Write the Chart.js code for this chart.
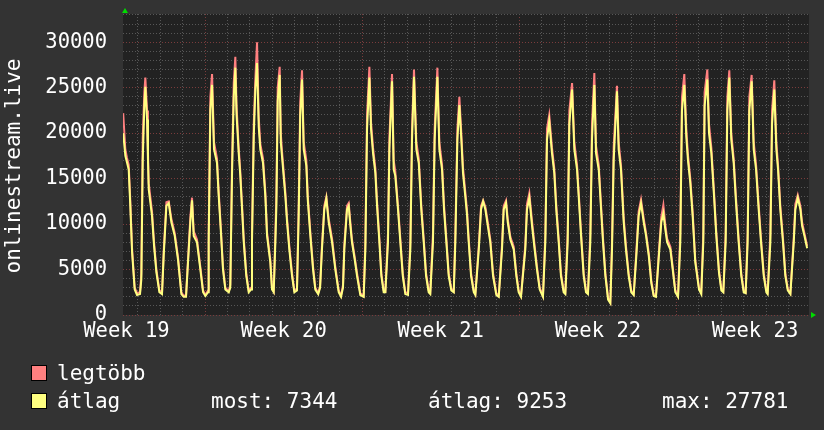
<!DOCTYPE html>
<html>
<head>
<meta charset="utf-8">
<script src="https://cdn.jsdelivr.net/npm/chart.js@4.4.0/dist/chart.umd.min.js"></script>
<style>
    html, body { margin: 0; padding: 0; background: #333333; }
    #wrap { position: relative; width: 824px; height: 430px; font-family: 'DejaVu Sans Mono', monospace; color: #fff; }
    #box { position: absolute; left: 0; top: 0; width: 824px; height: 430px; }
    .ytitle { position: absolute; left: 13px; top: 166px; transform: translate(-50%, -50%) rotate(-90deg); font-size: 21px; white-space: nowrap; }
    .leg { position: absolute; font-size: 21px; line-height: 21px; white-space: pre; }
    .sw { position: absolute; width: 14px; height: 14px; border: 1px solid #000; }
</style>
</head>
<body>
<div id="wrap">
    <div id="box"><canvas id="rrdChart"></canvas></div>
    <div class="ytitle">onlinestream.live</div>
    <div class="sw" style="left:31px;top:365px;background:#ff8080"></div>
    <div class="leg" style="left:57px;top:363px">legtöbb</div>
    <div class="sw" style="left:31px;top:393px;background:#ffff80"></div>
    <div class="leg" style="left:57px;top:391px">átlag</div>
    <div class="leg" id="lastTxt" style="left:211px;top:391px"></div>
    <div class="leg" id="avgTxt" style="left:428px;top:391px"></div>
    <div class="leg" id="maxTxt" style="left:662px;top:391px"></div>
</div>
<script>
// hours relative to Monday 00:00 of week 20 (the first red grid line)
const hours = [
    -87.5, -85.2, -83.5, -81.6, -79.9, -78.0, -75.2, -72.7, -69.5,
    -68.1, -66.6, -64.9, -63.8, -62.0, -61.0, -60.2, -56.7, -54.5, -52.0, -48.8,
    -46.0, -44.2, -41.3, -38.8, -36.0, -32.4, -28.9, -25.3, -22.8,
    -20.3, -17.4, -15.7, -13.9, -12.1, -8.6, -5.0, -2.1, 0.4,
    3.2, 3.9, 5.7, 7.5, 9.6, 12.8, 14.6, 16.8, 19.2, 21.7, 25.3,
    27.0, 28.9, 30.7, 32.4, 33.7, 36.0, 37.7, 39.6, 41.4, 44.1, 46.7,
    49.2, 50.2, 52.1, 53.8, 55.6, 57.4, 59.1, 62.0, 64.5, 66.3, 69.8, 71.6, 73.4,
    75.2, 76.3, 77.7, 79.8, 81.0, 82.3, 85.9, 87.7, 90.1, 93.0, 95.5,
    98.3, 100.1, 101.8, 103.7, 105.5, 108.3, 109.8, 112.6, 115.5, 117.9, 121.0,
    123.0, 125.0, 127.5, 129.7, 132.2, 135.8, 139.3, 142.9, 145.4,
    147.5, 148.9, 151.8, 153.6, 155.2, 157.1, 160.0, 162.5, 166.0, 169.6,
    171.4, 173.2, 175.7, 177.5, 179.6, 182.1, 183.9, 186.4, 188.5, 191.0,
    192.8, 195.6, 197.1, 199.9, 201.7, 203.4, 206.3, 208.8, 211.4, 214.1,
    217.0, 219.5, 221.3, 223.4, 225.9, 228.5, 231.2, 233.8, 236.3, 239.1,
    240.8, 243.7, 245.5, 248.4, 250.5, 253.4, 255.5, 258.0, 260.5, 263.3,
    265.9, 267.6, 269.8, 271.9, 274.0, 275.8, 278.3, 280.1, 281.9, 284.4, 287.3,
    289.0, 292.7, 295.1, 297.3, 299.7, 302.3, 305.0, 307.9, 311.4,
    314.0, 317.5, 319.3, 321.8, 323.6, 326.4, 330.0, 332.8, 335.3, 337.8,
    342.4, 344.2, 346.7, 349.6, 352.4, 354.9, 357.8, 361.3,
    363.8, 365.6, 368.0, 370.9, 373.4, 375.5, 378.1, 380.5, 383.4,
    385.2, 387.7, 389.5, 392.4, 394.8, 397.7, 399.5, 402.0, 404.8, 407.3,
    409.4, 411.9, 413.7, 416.2, 418.0, 420.9, 423.4, 425.5, 428.0, 430.9, 433.3,
    435.1, 436.9, 440.4, 442.2, 444.7, 447.6, 450.0, 452.9, 455.7,
    458.3, 461.1, 463.6, 466.1, 469.0, 471.5, 474.4, 477.1, 479.7,
    482.1, 485.7, 487.8, 490.0, 492.1, 494.0, 497.5, 500.0, 502.8, 505.7,
    508.1, 509.9, 512.4, 514.5, 516.3, 518.8, 521.3, 524.1, 528.1, 530.5,
    532.7, 534.1, 537.0, 538.8, 541.3, 544.2, 546.6, 549.5, 552.0, 554.1,
    556.6, 558.4, 560.5, 562.6, 565.2, 567.7, 570.5, 573.3, 575.9, 578.0,
    580.1, 581.9, 584.4, 586.6, 589.1, 591.9, 594.4, 597.3, 600.1,
    601.5, 604.4, 606.2, 608.6, 610.8, 612.6, 615.0, 617.9, 620.4, 623.0, 625.8,
    629.4, 631.1, 633.7, 636.5, 638.3, 640.8, 643.7
];
const avgVals = [
    20000, 17500, 16800, 16000, 12000, 6900, 2800, 2200, 2300,
    3900, 17000, 23000, 25100, 21500, 17000, 13800, 10900, 7600, 4700, 2500,
    2300, 6500, 12000, 12300, 10200, 8700, 6100, 2300, 2000,
    2000, 7200, 10200, 12600, 8700, 8000, 5000, 2500, 2100,
    2500, 8000, 22600, 25300, 18200, 16700, 13100, 9400, 5000, 2800, 2500,
    3000, 15600, 24000, 27200, 22000, 17800, 15300, 11600, 8000, 4300, 2500,
    2800, 8000, 19600, 24800, 27700, 20700, 18200, 16700, 13000, 8700, 5800, 2800, 2500,
    8000, 12000, 23500, 26400, 19000, 17400, 13000, 10200, 7200, 4300, 2500,
    2700, 10700, 22000, 25900, 18200, 16400, 12700, 8700, 5000, 2800, 2300,
    3000, 7200, 11600, 12800, 10200, 8000, 5000, 2500, 2000,
    3000, 7200, 11600, 12000, 10000, 8000, 6100, 4300, 2200, 2000,
    7200, 20400, 26100, 20400, 17800, 15600, 12000, 8000, 4300, 2500,
    2500, 8000, 18200, 25700, 16000, 15300, 11600, 8000, 4300, 2300,
    2200, 7200, 19300, 26200, 18200, 16700, 11600, 8000, 4300, 2500,
    2300, 8000, 19300, 26200, 18200, 16000, 11600, 8000, 4300, 2700,
    2500, 8000, 19300, 23100, 19300, 15600, 13000, 11000, 8000, 4300, 2500,
    2200, 7200, 11600, 12500, 11600, 9800, 8000, 4300, 2200,
    2000, 7200, 11600, 12300, 10200, 8300, 7200, 4300, 2500, 2000,
    7200, 11600, 12900, 9800, 7200, 5000, 2800, 2000,
    8000, 19300, 21300, 17800, 15600, 11600, 8000, 4300, 2500,
    2300, 8000, 21000, 24800, 18200, 16000, 13000, 8700, 4300, 2500,
    2300, 8000, 19300, 25300, 17800, 16000, 11600, 8000, 4300, 1700, 1300,
    7200, 17000, 24600, 18200, 16000, 10200, 7200, 4300, 2500,
    2200, 6500, 10900, 12300, 10200, 8700, 6500, 3500, 2100,
    2000, 7200, 10200, 11200, 9400, 8000, 7200, 5000, 2500, 2000,
    8000, 22500, 25300, 19600, 17000, 14500, 10900, 5800, 2800, 2300,
    8000, 23000, 25900, 20000, 17800, 13000, 8700, 4600, 2700, 2500,
    8000, 22500, 26100, 19300, 16700, 12300, 8000, 4300, 2500, 2400,
    8000, 22500, 25700, 18200, 16000, 11600, 8000, 4300, 2500,
    2300, 8000, 21000, 24800, 18200, 16000, 11600, 8000, 4300, 2700, 2300,
    8000, 11600, 12900, 11600, 9800, 8700, 7344
];
const maxVals = [
    22200, 18200, 17300, 16500, 12600, 7300, 3000, 2400, 2500,
    4600, 19500, 24500, 26100, 22500, 18000, 14500, 11400, 8000, 5000, 2700,
    2400, 7000, 12400, 12500, 10600, 9000, 6400, 2500, 2100,
    2200, 7600, 10800, 12900, 9200, 8300, 5300, 2700, 2200,
    2700, 9000, 24000, 26500, 19000, 17200, 13600, 9800, 5300, 3000, 2600,
    3300, 17000, 25500, 28400, 23000, 18400, 15800, 12000, 8400, 4600, 2700,
    3000, 9000, 21000, 26000, 30000, 21800, 18800, 17200, 13500, 9100, 6100, 3000, 2600,
    9000, 13500, 25000, 27300, 20000, 18000, 13500, 10600, 7600, 4600, 2700,
    2900, 12000, 23500, 26900, 19000, 17000, 13200, 9100, 5300, 3000, 2400,
    3200, 7600, 12000, 13000, 10600, 8400, 5300, 2700, 2100,
    3300, 7700, 12000, 12300, 10400, 8300, 6400, 4600, 2400, 2100,
    8000, 22000, 27300, 21200, 18400, 16100, 12500, 8400, 4600, 2700,
    2600, 9000, 19500, 26500, 17000, 15800, 12000, 8400, 4600, 2500,
    2400, 8000, 20500, 27000, 19000, 17200, 12100, 8400, 4600, 2700,
    2500, 9000, 20500, 27200, 19000, 16500, 12100, 8400, 4600, 2900,
    2600, 9000, 20500, 24000, 20000, 16200, 13500, 11500, 8400, 4600, 2700,
    2300, 7700, 12000, 12600, 11900, 10200, 8300, 4600, 2400,
    2100, 7700, 12000, 12600, 10600, 8600, 7500, 4600, 2700, 2100,
    7700, 12200, 13400, 10300, 7600, 5300, 3000, 2100,
    8800, 20500, 22000, 18400, 16100, 12100, 8400, 4600, 2700,
    2500, 9000, 22500, 25500, 19000, 16500, 13500, 9100, 4600, 2700,
    2500, 9000, 21000, 26600, 18600, 16500, 12100, 8400, 4600, 1900, 1400,
    8000, 18500, 25200, 19000, 16500, 10700, 7600, 4600, 2700,
    2300, 7000, 11400, 12700, 10600, 9000, 6800, 3800, 2200,
    2100, 7700, 10800, 12100, 9900, 8400, 7500, 5300, 2700, 2100,
    9000, 24000, 26500, 20500, 17600, 15000, 11400, 6100, 3000, 2500,
    9000, 24500, 27000, 21000, 18400, 13500, 9100, 4900, 2900, 2600,
    9000, 24000, 26900, 20000, 17200, 12800, 8400, 4600, 2700, 2500,
    9000, 24000, 26400, 19000, 16500, 12100, 8400, 4600, 2700,
    2500, 9000, 22500, 25800, 19000, 16500, 12100, 8400, 4600, 2900, 2400,
    8500, 12200, 13200, 12000, 10200, 9000, 7600
];
const weekTicks = [-84, 84, 252, 420, 588];
const weekLabels = ['Week 19', 'Week 20', 'Week 21', 'Week 22', 'Week 23'];
const yTicks = [0, 5000, 10000, 15000, 20000, 25000, 30000];
const stats = { most: '7344', atlag: '9253', max: '27781' };

document.getElementById('lastTxt').textContent = 'most: ' + stats.most;
document.getElementById('avgTxt').textContent = 'átlag: ' + stats.atlag;
document.getElementById('maxTxt').textContent = 'max: ' + stats.max;

const xMin = -87.7, xMax = 645.7, yMax = 33100;
const minorGrid = '#575757';
const majorGrid = '#7a3c3c';
const tickFont = { family: 'DejaVu Sans Mono', size: 20.5 };

const plotBg = {
    id: 'plotBg',
    beforeDraw(chart) {
        const { ctx, chartArea: a } = chart;
        ctx.save();
        ctx.fillStyle = '#222222';
        ctx.fillRect(a.left, a.top, a.right - a.left, a.bottom - a.top);
        ctx.restore();
    },
    afterDraw(chart) {
        const { ctx, chartArea: a } = chart;
        ctx.save();
        ctx.fillStyle = '#00dd00';
        ctx.beginPath();
        ctx.moveTo(a.left - 1, a.top - 1);
        ctx.lineTo(a.left + 5, a.top - 1);
        ctx.lineTo(a.left + 2, a.top - 6);
        ctx.closePath();
        ctx.fill();
        ctx.beginPath();
        ctx.moveTo(a.right + 2, a.bottom - 3);
        ctx.lineTo(a.right + 2, a.bottom + 3);
        ctx.lineTo(a.right + 7, a.bottom);
        ctx.closePath();
        ctx.fill();
        ctx.restore();
    }
};

const ctx = document.getElementById('rrdChart').getContext('2d');
const rrdChart = new Chart(ctx, {
    type: 'line',
    data: {
        datasets: [
            {
                label: 'átlag',
                data: hours.map((h, i) => ({ x: h, y: avgVals[i] })),
                borderColor: '#ffff80',
                borderWidth: 2,
                pointRadius: 0,
                tension: 0
            },
            {
                label: 'legtöbb',
                data: hours.map((h, i) => ({ x: h, y: maxVals[i] })),
                borderColor: '#ff8080',
                borderWidth: 2,
                pointRadius: 0,
                tension: 0
            }
        ]
    },
    options: {
        responsive: true,
        maintainAspectRatio: false,
        animation: false,
        layout: { padding: { top: 14, right: 15, bottom: 85, left: 0 } },
        scales: {
            x: {
                type: 'linear',
                min: xMin,
                max: xMax,
                afterBuildTicks: s => {
                    const t = [];
                    for (let h = -72; h <= xMax; h += 24) t.push({ value: h });
                    weekTicks.forEach(v => t.push({ value: v }));
                    t.sort((a, b) => a.value - b.value);
                    s.ticks = t;
                },
                afterFit: s => {
                    s.height = 30;
                    s.paddingLeft = 0;
                    s.paddingRight = 0;
                },
                grid: {
                    drawTicks: false,
                    color: c => {
                        const v = c.tick.value;
                        if (weekTicks.includes(v)) return 'rgba(0,0,0,0)';
                        return v % 168 === 0 ? majorGrid : minorGrid;
                    }
                },
                border: { display: false, dash: [1, 2] },
                ticks: {
                    autoSkip: false,
                    maxRotation: 0,
                    color: '#ffffff',
                    font: tickFont,
                    padding: 4,
                    callback: v => {
                        const i = weekTicks.indexOf(v);
                        return i < 0 ? '' : weekLabels[i];
                    }
                }
            },
            y: {
                min: 0,
                max: yMax,
                afterBuildTicks: s => {
                    const t = [];
                    for (let v = 0; v <= yMax; v += 1000) t.push({ value: v });
                    s.ticks = t;
                },
                afterFit: s => {
                    s.width = 123;
                    s.paddingTop = 0;
                    s.paddingBottom = 0;
                },
                grid: {
                    drawTicks: false,
                    color: c => c.tick.value % 5000 === 0 ? majorGrid : minorGrid
                },
                border: { display: false, dash: [1, 2] },
                ticks: {
                    autoSkip: false,
                    color: '#ffffff',
                    font: tickFont,
                    padding: 16,
                    callback: v => yTicks.includes(v) ? String(v) : ''
                }
            }
        },
        plugins: {
            legend: { display: false },
            tooltip: { enabled: false }
        }
    },
    plugins: [plotBg]
});
</script>
</body>
</html>
